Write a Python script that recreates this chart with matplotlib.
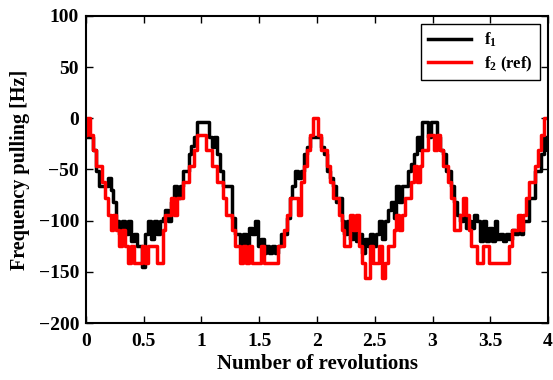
import numpy as np
import matplotlib
matplotlib.use("Agg")
import matplotlib.pyplot as plt

plt.rcParams['font.family'] = 'Liberation Serif'
plt.rcParams['font.weight'] = 'bold'
plt.rcParams['mathtext.fontset'] = 'custom'
plt.rcParams['mathtext.rm'] = 'Liberation Serif:bold'
plt.rcParams['mathtext.it'] = 'Liberation Serif:bold'
plt.rcParams['mathtext.bf'] = 'Liberation Serif:bold'

# revolutions, sampled every 0.025
rev = np.linspace(0, 4, 161)

# f1 (black)
f1 = [-18, -18, -18, -31, -51, -66, -66, -66, -58, -70, -82, -100, -113, -100, -113, -100, -120, -113, -125, -125,
      -145, -113, -100, -118, -100, -113, -100, -97, -90, -100, -82, -66, -78, -66, -51, -51, -35, -27, -18, -4,
      -4, -4, -4, -18, -28, -18, -35, -51, -66, -66, -66, -97, -113, -113, -125, -113, -125, -107, -113, -100,
      -125, -118, -132, -125, -132, -125, -132, -125, -113, -113, -97, -78, -66, -51, -58, -51, -35, -28, -18, -18,
      -18, -18, -28, -35, -51, -58, -66, -82, -78, -100, -113, -100, -118, -107, -120, -113, -132, -118, -125, -113,
      -125, -113, -100, -118, -100, -90, -82, -97, -66, -82, -66, -66, -51, -45, -35, -18, -31, -4, -4, -18,
      -4, -4, -18, -31, -35, -51, -51, -66, -82, -94, -100, -94, -107, -100, -107, -94, -100, -120, -100, -120,
      -107, -120, -100, -118, -113, -120, -113, -118, -109, -113, -109, -113, -100, -100, -78, -78, -51, -51, -35, -18,
      -31]

# f2 (ref, red)
f2 = [-16, 0, -16, -31, -47, -47, -62, -78, -94, -109, -94, -109, -125, -109, -125, -141, -125, -141, -141, -141,
      -125, -141, -125, -125, -125, -141, -141, -109, -94, -94, -78, -94, -78, -78, -62, -62, -47, -47, -31, -16,
      -16, -16, -31, -31, -47, -47, -62, -62, -78, -94, -94, -109, -125, -125, -141, -125, -141, -125, -141, -141,
      -141, -125, -141, -141, -141, -141, -141, -125, -125, -109, -94, -78, -78, -78, -94, -62, -47, -31, -16, 0,
      0, -16, -31, -31, -47, -62, -78, -78, -94, -109, -125, -125, -94, -109, -94, -125, -141, -156, -156, -125,
      -141, -141, -125, -156, -141, -125, -125, -109, -94, -109, -94, -78, -78, -62, -47, -62, -47, -31, -31, -16,
      -16, -31, -16, -31, -47, -47, -62, -78, -109, -109, -94, -78, -94, -109, -125, -125, -141, -141, -125, -125,
      -141, -141, -141, -141, -141, -141, -141, -125, -109, -109, -94, -109, -94, -78, -62, -62, -47, -31, -16, 0,
      0]

fig = plt.figure(figsize=(5.53, 3.80), dpi=100)
ax = fig.add_axes([0.1555, 0.15, 0.8355, 0.808])

ax.plot(rev, f1, color='black', lw=2.5, drawstyle='steps-mid', label='f$_1$')
ax.plot(rev, f2, color='red', lw=2.5, drawstyle='steps-mid', label='f$_2$ (ref)')

ax.set_xlim(0, 4)
ax.set_ylim(-200, 100)
ax.set_xticks(np.arange(0, 4.01, 0.5))
ax.set_xticklabels(['0', '0.5', '1', '1.5', '2', '2.5', '3', '3.5', '4'])
ax.set_yticks(np.arange(-200, 101, 50))
ax.tick_params(direction='in', top=True, right=True, length=5, width=1, labelsize=14)
ax.tick_params(axis='x', pad=7)
ax.tick_params(axis='y', pad=5)
for s in ax.spines.values():
    s.set_linewidth(1.5)

ax.set_xlabel('Number of revolutions', fontsize=15, fontweight='bold', labelpad=3)
ax.set_ylabel('Frequency pulling [Hz]', fontsize=14.5, fontweight='bold', labelpad=6)

leg = ax.legend(loc='upper right', fontsize=12, handlelength=2.6, fancybox=False,
                edgecolor='black', framealpha=1, borderaxespad=0.5, labelspacing=0.3)
leg.get_frame().set_linewidth(1.0)

fig.savefig('out.png', dpi=100)
